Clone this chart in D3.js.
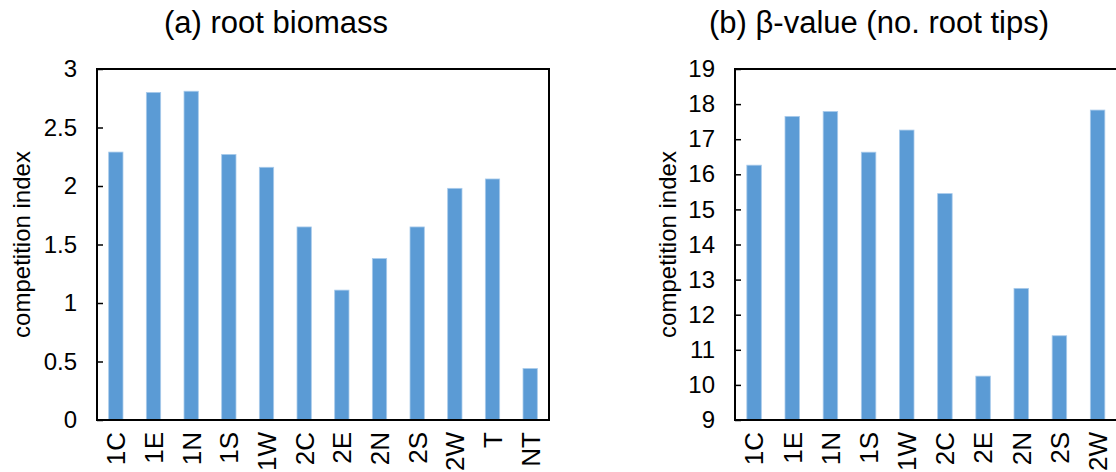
<!DOCTYPE html>
<html>
<head>
<meta charset="utf-8">
<script src="https://cdn.jsdelivr.net/npm/d3@7"></script>
<style>
  html, body { margin: 0; padding: 0; background: #fff; }
  svg { display: block; font-family: "Liberation Sans", Arial, sans-serif; }
</style>
</head>
<body>
<svg id="chart" width="1116" height="472"></svg>
<script>
// ---- data ----
const categoriesA = ["1C", "1E", "1N", "1S", "1W", "2C", "2E", "2N", "2S", "2W", "T", "NT"];
const valuesA = [2.29, 2.80, 2.81, 2.27, 2.16, 1.65, 1.11, 1.38, 1.65, 1.98, 2.06, 0.44];
const ticksA = [0, 0.5, 1, 1.5, 2, 2.5, 3];
const titleA = "(a) root biomass";

const categoriesB = ["1C", "1E", "1N", "1S", "1W", "2C", "2E", "2N", "2S", "2W", "T", "NT"];
const valuesB = [16.26, 17.65, 17.79, 16.63, 17.26, 15.45, 10.25, 12.75, 11.40, 17.83];
const ticksB = [9, 10, 11, 12, 13, 14, 15, 16, 17, 18, 19];
const titleB = "(b) \u03B2-value (no. root tips)";

const yLabel = "competition index";

// ---- drawing ----
const svg = d3.select("#chart");
const barColor = "#5b9bd5";
const FONT = "Liberation Sans, Arial, sans-serif";

function panel(cfg) {
  const g = svg.append("g");
  const x = d3.scaleBand().domain(cfg.categories).range([cfg.left, cfg.right]).paddingInner(0.62).paddingOuter(0.31);
  const y = d3.scaleLinear().domain(cfg.domain).range([cfg.bottom, cfg.top]);

  const data = cfg.values.map((v, i) => ({ c: cfg.categories[i], v }));
  g.selectAll("rect.bar").data(data).join("rect")
    .attr("class", "bar")
    .attr("x", d => x(d.c))
    .attr("width", x.bandwidth())
    .attr("y", d => y(d.v))
    .attr("height", d => y(cfg.domain[0]) - y(d.v))
    .attr("fill", barColor)
    .attr("stroke", "#a9cbeb")
    .attr("stroke-width", 0.8);

  // y axis with inward ticks
  const yAxis = d3.axisRight(y).tickValues(cfg.ticks).tickSize(6).tickFormat(d3.format("~g"));
  const ya = g.append("g").attr("transform", `translate(${cfg.left},0)`).call(yAxis);
  ya.select(".domain").remove();
  ya.selectAll(".tick line").attr("stroke", "#000").attr("stroke-width", 1.5);
  ya.selectAll(".tick text")
    .attr("x", -20).attr("text-anchor", "end")
    .attr("font-size", 24).attr("fill", "#000")
    .attr("font-family", FONT);

  // x axis labels rotated (only the categories that fall inside the picture)
  const shown = cfg.categories.filter(c => x(c) + x.bandwidth() / 2 + 12 < 1116);
  const xAxis = d3.axisBottom(x).tickValues(shown).tickSize(0);
  const xa = g.append("g").attr("transform", `translate(0,${cfg.bottom})`).call(xAxis);
  xa.select(".domain").remove();
  xa.selectAll(".tick text")
    .attr("transform", "rotate(-90)")
    .attr("x", -12).attr("y", 0).attr("dy", "0.36em")
    .attr("text-anchor", "end")
    .attr("font-size", 26).attr("fill", "#000")
    .attr("font-family", FONT);

  // frame
  g.append("rect")
    .attr("x", cfg.left).attr("y", cfg.top)
    .attr("width", cfg.right - cfg.left).attr("height", cfg.bottom - cfg.top)
    .attr("fill", "none").attr("stroke", "#000").attr("stroke-width", 2);

  // title
  g.append("text").attr("x", cfg.titleX).attr("y", 33)
    .attr("text-anchor", "middle").attr("font-size", 31).attr("fill", "#000")
    .attr("font-family", FONT)
    .text(cfg.title);

  // y label
  g.append("text")
    .attr("transform", `translate(${cfg.ylabelX},${(cfg.top + cfg.bottom) / 2}) rotate(-90)`)
    .attr("text-anchor", "middle").attr("font-size", 24).attr("fill", "#000")
    .attr("font-family", FONT)
    .text(yLabel);
}

panel({
  categories: categoriesA, values: valuesA, ticks: ticksA, domain: [0, 3],
  left: 97, right: 549, top: 69, bottom: 420,
  title: titleA, titleX: 276, ylabelX: 30
});

panel({
  categories: categoriesB, values: valuesB, ticks: ticksB, domain: [9, 19],
  left: 735, right: 1193, top: 69, bottom: 420,
  title: titleB, titleX: 879, ylabelX: 676
});
</script>
</body>
</html>
